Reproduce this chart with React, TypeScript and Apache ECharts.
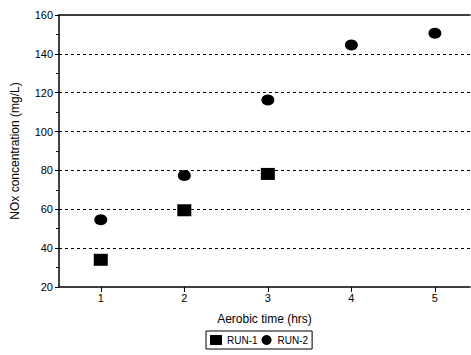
import React, { useEffect, useRef } from "react";
import * as echarts from "echarts";

const hours = [1, 2, 3, 4, 5];
const run1 = [34, 59.5, 78.2];
const run2 = [54.6, 77.4, 116.3, 144.6, 150.6];
const yTicks = [20, 40, 60, 80, 100, 120, 140, 160];

const FONT = "Liberation Sans";

export default function App() {
  const ref = useRef<HTMLDivElement>(null);
  useEffect(() => {
    if (!ref.current) return;
    const chart = echarts.init(ref.current, null, { renderer: "svg" });
    chart.setOption({
      animation: false,
      backgroundColor: "#fff",
      textStyle: { fontFamily: FONT, color: "#000" },
      grid: { left: 59, top: 15, right: 1, bottom: 68, containLabel: false },
      legend: {
        bottom: 6,
        left: 206,
        itemWidth: 12,
        itemHeight: 10,
        itemGap: 4,
        padding: [4, 4, 4, 4],
        borderColor: "#000",
        borderWidth: 1,
        borderRadius: 0,
        textStyle: { fontFamily: FONT, fontSize: 10, color: "#000" },
        data: [
          { name: "RUN-1", icon: "rect" },
          { name: "RUN-2", icon: "circle" },
        ],
      },
      xAxis: [
        {
          type: "value",
          min: 0.5,
          max: 5.42,
          name: "Aerobic time (hrs)",
          nameLocation: "middle",
          nameGap: 26,
          nameTextStyle: { fontFamily: FONT, fontSize: 12, color: "#000" },
          axisLine: { show: true, lineStyle: { color: "#000", width: 1.5 } },
          axisTick: {
            show: true,
            customValues: hours,
            length: 5,
            lineStyle: { color: "#000" },
          },
          axisLabel: {
            customValues: hours,
            fontFamily: FONT,
            fontSize: 11,
            color: "#000",
            margin: 5,
          },
          splitLine: { show: false },
        },
        {
          type: "value",
          position: "top",
          min: 0.5,
          max: 5.42,
          axisLine: { show: true, onZero: false, lineStyle: { color: "#000", width: 1.5 } },
          axisTick: { show: false },
          axisLabel: { show: false },
          splitLine: { show: false },
        },
      ],
      yAxis: {
        type: "value",
        min: 20,
        max: 160,
        interval: 20,
        name: "NOx concentration (mg/L)",
        nameLocation: "middle",
        nameGap: 38,
        nameTextStyle: { fontFamily: FONT, fontSize: 12, color: "#000" },
        axisLine: { show: true, lineStyle: { color: "#000", width: 1.5 } },
        axisTick: { show: true, length: 4, lineStyle: { color: "#000" } },
        minorTick: { show: true, splitNumber: 2, length: 3, lineStyle: { color: "#000" } },
        axisLabel: {
          fontFamily: FONT,
          fontSize: 11,
          color: "#000",
          margin: 6,
          customValues: yTicks,
        },
        splitLine: {
          show: true,
          showMinLine: false,
          showMaxLine: false,
          lineStyle: { color: "#000", type: [3, 3], width: 1.2 },
        },
      },
      series: [
        {
          name: "RUN-1",
          type: "scatter",
          symbol: "rect",
          symbolSize: [14, 12],
          itemStyle: { color: "#000", opacity: 1 },
          data: run1.map((v, i) => [hours[i], v]),
        },
        {
          name: "RUN-2",
          type: "scatter",
          symbol: "circle",
          symbolSize: [13, 11],
          itemStyle: { color: "#000", opacity: 1 },
          data: run2.map((v, i) => [hours[i], v]),
        },
      ],
    });
    return () => chart.dispose();
  }, []);
  return <div ref={ref} style={{ width: 471, height: 355, position: "absolute", left: 0, top: 0 }} />;
}
